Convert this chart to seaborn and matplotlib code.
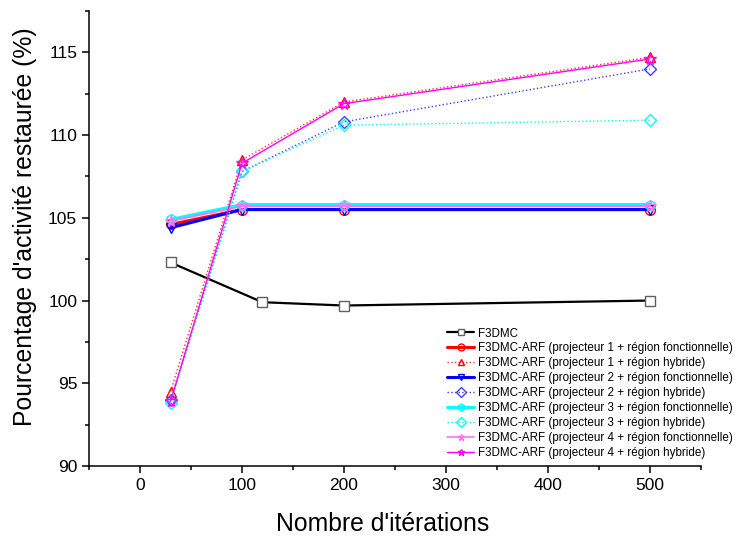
import copy
import numpy as np
import pandas as pd
import matplotlib
matplotlib.use('Agg')
import matplotlib.pyplot as plt
from matplotlib.ticker import MultipleLocator
import seaborn as sns

sns.set_style('ticks', {'axes.edgecolor': 'black', 'text.color': 'black',
                        'axes.labelcolor': 'black', 'xtick.color': 'black',
                        'ytick.color': 'black'})
plt.rcParams['font.family'] = ['Liberation Sans', 'DejaVu Sans']

# data
iters = [30, 100, 200, 500]
iters_f3dmc = [30, 120, 200, 500]
f3dmc = [102.3, 99.9, 99.7, 100.0]
p1_fonc = [104.6, 105.5, 105.5, 105.5]
p1_hyb = [94.5, 108.5, 112.0, 114.7]
p2_fonc = [104.4, 105.5, 105.5, 105.5]
p2_hyb = [94.0, 107.8, 110.8, 114.0]
p3_fonc = [104.9, 105.8, 105.8, 105.8]
p3_hyb = [93.8, 107.8, 110.6, 110.9]
p4_fonc = [104.8, 105.7, 105.7, 105.7]
p4_hyb = [93.9, 108.3, 111.9, 114.6]

labels = [
    "F3DMC",
    "F3DMC-ARF (projecteur 1 + région fonctionnelle)",
    "F3DMC-ARF (projecteur 1 + région hybride)",
    "F3DMC-ARF (projecteur 2 + région fonctionnelle)",
    "F3DMC-ARF (projecteur 2 + région hybride)",
    "F3DMC-ARF (projecteur 3 + région fonctionnelle)",
    "F3DMC-ARF (projecteur 3 + région hybride)",
    "F3DMC-ARF (projecteur 4 + région fonctionnelle)",
    "F3DMC-ARF (projecteur 4 + région hybride)",
]

series = [
    (iters_f3dmc, f3dmc, '#000000', '#606060', 's', '-', 1.6),
    (iters, p1_fonc, '#ff0000', '#ff0000', 'o', '-', 2.2),
    (iters, p1_hyb, '#ff3030', '#ff0000', '^', ':', 1.0),
    (iters, p2_fonc, '#0000ff', '#0000ff', 'v', '-', 2.2),
    (iters, p2_hyb, '#4040ff', '#4040ff', 'D', ':', 1.0),
    (iters, p3_fonc, '#00ffff', '#00ffff', 'h', '-', 2.2),
    (iters, p3_hyb, '#00ffff', '#00ffff', 'D', ':', 1.0),
    (iters, p4_fonc, '#ff70ff', '#ff70ff', '*', '-', 1.2),
    (iters, p4_hyb, '#ff00ff', '#ff00ff', '*', '-', 1.0),
]

fig = plt.figure(figsize=(7.37, 5.37), dpi=100)
ax = fig.add_axes([0.1208, 0.1322, 0.8302, 0.8473])

for (xs, ys, col, mcol, mk, ls, lw), lab in zip(series, labels):
    df = pd.DataFrame({'x': xs, 'y': ys})
    ms = {'*': 8.5, 'D': 6, 's': 6.5}.get(mk, 7)
    sns.lineplot(data=df, x='x', y='y', ax=ax, color=col, linestyle=ls,
                 linewidth=lw, marker=mk, markersize=ms,
                 markerfacecolor='white' if mk == 's' else 'none',
                 markeredgecolor=mcol, markeredgewidth=1.0, label=lab)

ax.set_xlim(-50, 550)
ax.set_ylim(90, 117.5)
ax.xaxis.set_major_locator(MultipleLocator(100))
ax.xaxis.set_minor_locator(MultipleLocator(50))
ax.yaxis.set_major_locator(MultipleLocator(5))
ax.yaxis.set_minor_locator(MultipleLocator(2.5))
ax.tick_params(which='major', length=5, width=1.1, labelsize=12.5, direction='out')
ax.tick_params(which='minor', length=3, width=1.1, direction='out')
for s in ['top', 'right']:
    ax.spines[s].set_visible(False)
for s in ['left', 'bottom']:
    ax.spines[s].set_linewidth(1.1)
ax.set_xlabel("Nombre d'itérations", fontsize=17.8)
ax.set_ylabel("Pourcentage d'activité restaurée (%)", fontsize=17.8)
ax.xaxis.set_label_coords(0.48, -0.1)
ax.yaxis.set_label_coords(-0.085, 0.525)
ax.grid(False)

handles, labs = ax.get_legend_handles_labels()
ax.get_legend().remove()
leg_handles = []
for h in handles:
    h2 = copy.copy(h)
    h2.set_markersize(5)
    leg_handles.append(h2)
fig.legend(leg_handles, labs, loc='upper left', bbox_to_anchor=(0.607, 0.390),
           bbox_transform=fig.transFigure, frameon=False, fontsize=8.4,
           handlelength=2.3, handletextpad=0.35, labelspacing=0.25,
           borderaxespad=0, borderpad=0)

fig.savefig('out.png', dpi=100)
